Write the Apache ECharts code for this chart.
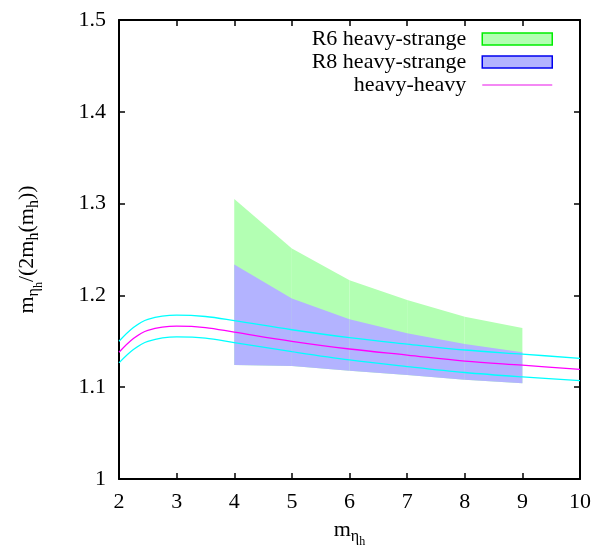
<!DOCTYPE html>
<html>
<head>
<meta charset="utf-8">
<script src="https://cdn.jsdelivr.net/npm/echarts@6/dist/echarts.min.js"></script>
<style>
html,body{margin:0;padding:0;background:#fff;}
#chart{width:594px;height:554px;}
</style>
</head>
<body>
<div id="chart"></div>
<script>
// ---- data ----
var bandX = [4, 5, 6, 7, 8, 9];
var r6Upper = [1.305, 1.251, 1.2166, 1.195, 1.1768, 1.1645];
var r8Upper = [1.2337, 1.1967, 1.1739, 1.1587, 1.147, 1.138];
var r8Lower = [1.1242, 1.1232, 1.118, 1.1133, 1.108, 1.1043];
var r6Lower = r8Lower; // hidden behind the R8 band

var hhX = [2, 2.25, 2.5, 3, 3.5, 4, 5, 6, 7, 8, 9, 10];
var hhCentral = [1.138, 1.153, 1.162, 1.1665, 1.165, 1.160, 1.150, 1.1416, 1.135, 1.1285, 1.124, 1.1195];
var hhUpper = [1.150, 1.165, 1.174, 1.1785, 1.177, 1.1725, 1.1626, 1.154, 1.147, 1.1405, 1.136, 1.1315];
var hhLower = [1.1265, 1.141, 1.150, 1.1548, 1.1535, 1.1485, 1.1387, 1.1297, 1.1225, 1.116, 1.1112, 1.1072];

var xTicks = [2, 3, 4, 5, 6, 7, 8, 9, 10];
var yTicks = [1, 1.1, 1.2, 1.3, 1.4, 1.5];

var FONT = 'Liberation Serif';

function zip(xs, ys) { return xs.map(function (x, i) { return [x, ys[i]]; }); }

function bandSeries(name, xs, lo, hi, fill) {
  return {
    name: name,
    type: 'custom',
    xAxisIndex: 0, yAxisIndex: 0,
    data: xs.map(function (x, i) { return [x, hi[i], lo[i]]; }),
    encode: { x: 0, y: [1, 2] },
    renderItem: function (params, api) {
      var i = params.dataIndex;
      if (i >= xs.length - 1) return null;
      var p1 = api.coord([xs[i], lo[i]]);
      var p2 = api.coord([xs[i], hi[i]]);
      var p3 = api.coord([xs[i + 1], hi[i + 1]]);
      var p4 = api.coord([xs[i + 1], lo[i + 1]]);
      return {
        type: 'polygon',
        shape: { points: [p1, p2, p3, p4] },
        style: { fill: fill, stroke: null }
      };
    },
    silent: true
  };
}

function lineSeries(name, xs, ys, color) {
  return {
    name: name,
    type: 'line',
    xAxisIndex: 0, yAxisIndex: 0,
    data: zip(xs, ys),
    smooth: 0.35,
    symbol: 'none',
    lineStyle: { color: color, width: 1.3 },
    itemStyle: { color: color },
    silent: true,
    z: 3
  };
}

var chart = echarts.init(document.getElementById('chart'), null, { renderer: 'canvas' });

var richName = {
  m: { fontFamily: FONT, fontSize: 22, lineHeight: 22, verticalAlign: 'top', color: '#000' },
  s: { fontFamily: FONT, fontSize: 16, lineHeight: 16, verticalAlign: 'top', padding: [10, 0, 0, 0], color: '#000' },
  ss: { fontFamily: FONT, fontSize: 12, lineHeight: 12, verticalAlign: 'top', padding: [17, 0, 0, 0], color: '#000' }
};

var axisCommon = {
  type: 'value',
  axisLine: { show: true, onZero: false, lineStyle: { color: '#000', width: 2 } },
  axisTick: { show: true, inside: true, length: 6, lineStyle: { color: '#000', width: 1.5 } },
  splitLine: { show: false }
};

var option = {
  backgroundColor: '#fff',
  animation: false,
  grid: { left: 119, right: 14, top: 20, bottom: 75, containLabel: false },
  legend: {
    orient: 'vertical',
    align: 'right',
    right: 36,
    top: 23,
    itemWidth: 70,
    itemHeight: 12,
    itemGap: 1,
    selectedMode: false,
    textStyle: { fontFamily: FONT, fontSize: 22, color: '#000', padding: [0, 11, 0, 0] },
    data: [
      { name: 'R6 heavy-strange', icon: 'rect', itemStyle: { color: '#b3ffb3', borderColor: '#00ee00', borderWidth: 1.5 } },
      { name: 'R8 heavy-strange', icon: 'rect', itemStyle: { color: '#b3b3ff', borderColor: '#0000ee', borderWidth: 1.5 } },
      { name: 'heavy-heavy',
        itemStyle: { color: 'rgba(0,0,0,0)', borderColor: 'rgba(0,0,0,0)', borderWidth: 0 },
        lineStyle: { color: '#f060f0', width: 1.5 } }
    ]
  },
  xAxis: [
    Object.assign({}, axisCommon, {
      position: 'bottom',
      min: xTicks[0], max: xTicks[xTicks.length - 1], interval: 1,
      axisLabel: { show: true, margin: 12, fontFamily: FONT, fontSize: 22, color: '#000' },
      name: '{m|m}{s|η}{ss|h}',
      nameLocation: 'middle',
      nameGap: 40,
      nameTextStyle: { rich: richName }
    }),
    Object.assign({}, axisCommon, {
      position: 'top',
      min: xTicks[0], max: xTicks[xTicks.length - 1], interval: 1,
      axisLabel: { show: false }
    })
  ],
  yAxis: [
    Object.assign({}, axisCommon, {
      position: 'left',
      min: yTicks[0], max: yTicks[yTicks.length - 1], interval: 0.1,
      axisLabel: {
        show: true, margin: 13, fontFamily: FONT, fontSize: 22, color: '#000',
        formatter: function (v) { return Math.abs(v - 1) < 1e-9 ? '1' : (+v).toFixed(1); }
      },
      name: '{m|m}{s|η}{ss|h}{m|/(2m}{s|h}{m|(m}{s|h}{m|))}',
      nameLocation: 'middle',
      nameRotate: 90,
      nameGap: 81,
      nameTextStyle: { rich: richName }
    }),
    Object.assign({}, axisCommon, {
      position: 'right',
      min: yTicks[0], max: yTicks[yTicks.length - 1], interval: 0.1,
      axisLabel: { show: false }
    })
  ],
  series: [
    bandSeries('R6 heavy-strange', bandX, r6Lower, r6Upper, '#b3ffb3'),
    bandSeries('R8 heavy-strange', bandX, r8Lower, r8Upper, '#b3b3ff'),
    lineSeries('heavy-heavy', hhX, hhCentral, '#ff00ff'),
    lineSeries('heavy-heavy upper', hhX, hhUpper, '#00ffff'),
    lineSeries('heavy-heavy lower', hhX, hhLower, '#00ffff')
  ]
};

chart.setOption(option);
</script>
</body>
</html>
